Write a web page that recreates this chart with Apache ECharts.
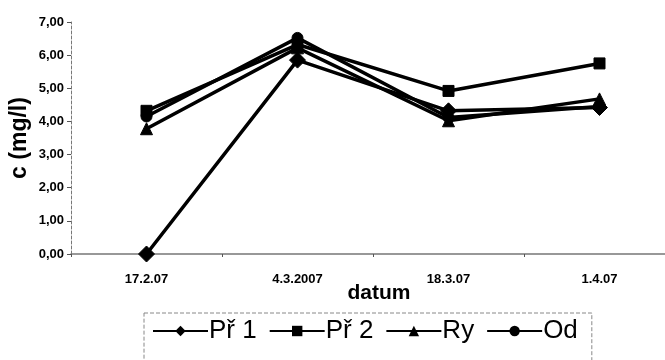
<!DOCTYPE html>
<html>
<head>
<meta charset="utf-8">
<script src="https://cdn.jsdelivr.net/npm/echarts@6/dist/echarts.min.js"></script>
<style>
  html, body { margin: 0; padding: 0; background: #fff; }
  #chart { width: 665px; height: 360px; }
</style>
</head>
<body>
<div id="chart"></div>
<script>
// Sampling dates and measured concentrations c (mg/l)
const dates = ['17.2.07', '4.3.2007', '18.3.07', '1.4.07'];
const pr1 = [0.00, 5.85, 4.32, 4.42];
const pr2 = [4.32, 6.32, 4.92, 5.75];
const ry  = [3.78, 6.22, 4.02, 4.68];
const od  = [4.15, 6.52, 4.12, 4.45];
const yTicks = { min: 0, max: 7, step: 1 };

const FONT = 'Liberation Sans, Arial, sans-serif';

function lineSeries(name, data, symbol, size) {
  return {
    name: name,
    type: 'line',
    data: data,
    symbol: symbol,
    symbolSize: size,
    showAllSymbol: true,
    lineStyle: { color: '#000', width: 3.5 },
    itemStyle: { color: '#000', borderColor: '#000' },
    emphasis: { disabled: true },
    animation: false
  };
}

const chart = echarts.init(document.getElementById('chart'), null, { renderer: 'canvas' });
chart.setOption({
  backgroundColor: '#fff',
  animation: false,
  grid: { left: 71, top: 22, bottom: 106, right: -10, outerBoundsMode: 'none', containLabel: false },
  legend: {
    left: 144,
    top: 313,
    width: 480,
    padding: [5, 14, 30, 8],
    borderColor: '#888',
    borderWidth: 1,
    borderType: 'dashed',
    itemWidth: 55,
    itemHeight: 13,
    itemGap: 12,
    textStyle: { fontFamily: FONT, fontSize: 26, color: '#000', padding: [0, 0, 0, -4] },
    data: ['Př 1', 'Př 2', 'Ry', 'Od']
  },
  xAxis: {
    type: 'category',
    data: dates,
    boundaryGap: true,
    name: 'datum',
    nameLocation: 'middle',
    nameGap: 29,
    nameMoveOverlap: false,
    nameTextStyle: { fontFamily: FONT, fontSize: 21, fontWeight: 'bold', color: '#000', padding: [0, 0, 0, 12] },
    axisLine: { lineStyle: { color: '#777', width: 1.5 } },
    axisTick: { show: true, length: 3, lineStyle: { color: '#555' } },
    axisLabel: { fontFamily: FONT, fontSize: 13, fontWeight: 'bold', color: '#000', margin: 19 },
    splitLine: { show: false }
  },
  yAxis: {
    type: 'value',
    min: yTicks.min,
    max: yTicks.max,
    interval: yTicks.step,
    name: 'c (mg/l)',
    nameLocation: 'middle',
    nameGap: 40,
    nameMoveOverlap: false,
    nameTextStyle: { fontFamily: FONT, fontSize: 23, fontWeight: 'bold', color: '#000' },
    axisLine: { show: true, lineStyle: { color: '#777', width: 1, type: [3, 2] } },
    axisTick: { show: true, length: 4, lineStyle: { color: '#555' } },
    axisLabel: {
      fontFamily: FONT, fontSize: 13, fontWeight: 'bold', color: '#000', margin: 7,
      formatter: v => v.toFixed(2).replace('.', ',')
    },
    splitLine: { show: false }
  },
  series: [
    lineSeries('Od', od, 'circle', 11),
    lineSeries('Ry', ry, 'triangle', 12),
    lineSeries('Př 2', pr2, 'rect', 11),
    lineSeries('Př 1', pr1, 'diamond', 16)
  ]
});
</script>
</body>
</html>
